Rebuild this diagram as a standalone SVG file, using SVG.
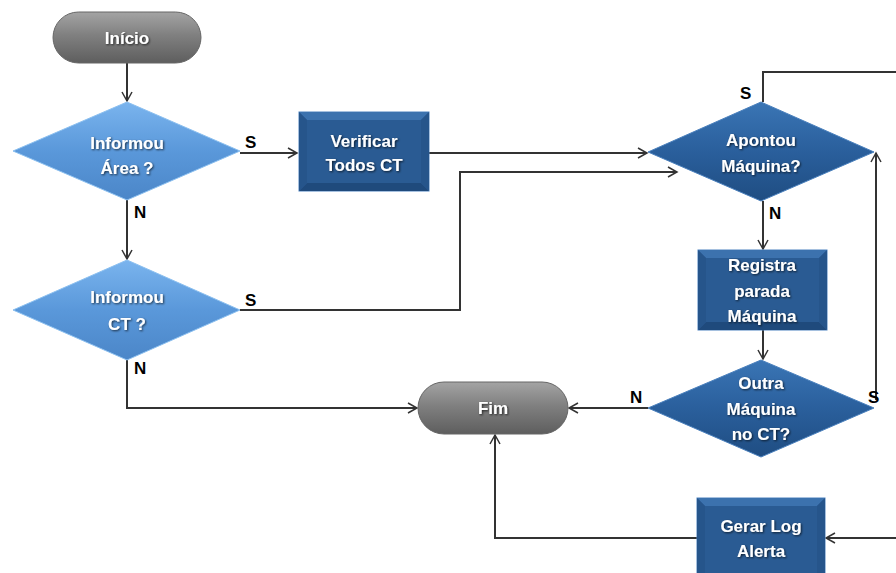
<svg xmlns="http://www.w3.org/2000/svg" width="896" height="573" viewBox="0 0 896 573">
<defs>
<linearGradient id="gPill" x1="0" y1="0" x2="0" y2="1">
<stop offset="0" stop-color="#a4a4a4"/><stop offset="0.45" stop-color="#808080"/><stop offset="1" stop-color="#5e5e5e"/>
</linearGradient>
<linearGradient id="gLight" x1="0" y1="0" x2="0" y2="1">
<stop offset="0" stop-color="#7ab4ee"/><stop offset="0.5" stop-color="#5a98da"/><stop offset="1" stop-color="#4b86c8"/>
</linearGradient>
<linearGradient id="gDark" x1="0" y1="0" x2="0" y2="1">
<stop offset="0" stop-color="#3a75b5"/><stop offset="0.5" stop-color="#2a5f9c"/><stop offset="1" stop-color="#1f4d82"/>
</linearGradient>
<filter id="ts" x="-10%" y="-20%" width="120%" height="150%">
<feDropShadow dx="1" dy="1" stdDeviation="0.8" flood-color="#000" flood-opacity="0.7"/>
</filter>
<marker id="arr" markerWidth="12" markerHeight="12" refX="10" refY="6" orient="auto" markerUnits="userSpaceOnUse">
<path d="M1,1 L10,6 L1,11" fill="none" stroke="#333" stroke-width="1.5"/>
</marker>
<style>
.t{font-family:"Liberation Sans",Arial,sans-serif;font-weight:bold;font-size:17px;fill:#fff;text-anchor:middle;filter:url(#ts)}
.lbl{font-family:"Liberation Sans",Arial,sans-serif;font-weight:bold;font-size:17px;fill:#000}
.c{fill:none;stroke:#333;stroke-width:2}
.pill{fill:url(#gPill);stroke:#666;stroke-width:1}
.dl{fill:url(#gLight);stroke:#8cc0f0;stroke-width:1}
.dd{fill:url(#gDark);stroke:#4a80bd;stroke-width:1}
.bo{fill:#2a5d97;stroke:#4d82c0;stroke-width:1}
.bt{fill:#3c72ae}
.bb{fill:#1f4a7c}
.bs{fill:#26558b}
.bi{fill:#2a5b93}
</style>
</defs>

<g id="connectors">
<path class="c" d="M127,63 V101" marker-end="url(#arr)"/>
<path class="c" d="M240,153 H297" marker-end="url(#arr)"/>
<path class="c" d="M429,153 H647" marker-end="url(#arr)"/>
<path class="c" d="M763,102 V72 H896"/>
<path class="c" d="M763,201 V249" marker-end="url(#arr)"/>
<path class="c" d="M127,200 V259" marker-end="url(#arr)"/>
<path class="c" d="M240,310 H460 V172 H677" marker-end="url(#arr)"/>
<path class="c" d="M127,360 V408 H417" marker-end="url(#arr)"/>
<path class="c" d="M763,330 V359" marker-end="url(#arr)"/>
<path class="c" d="M648,408 H569" marker-end="url(#arr)"/>
<path class="c" d="M876,400 V153" marker-end="url(#arr)"/>
<path class="c" d="M896,538 H826" marker-end="url(#arr)"/>
<path class="c" d="M697,538 H495 V435" marker-end="url(#arr)"/>
</g>

<g id="labels">
<text class="lbl" x="245" y="148">S</text>
<text class="lbl" x="134" y="218">N</text>
<text class="lbl" x="245" y="306">S</text>
<text class="lbl" x="134" y="374">N</text>
<text class="lbl" x="740" y="99">S</text>
<text class="lbl" x="769" y="219">N</text>
<text class="lbl" x="630" y="403">N</text>
<text class="lbl" x="868" y="403">S</text>
</g>

<g id="inicio">
<rect class="pill" x="53" y="12" width="148" height="51" rx="25.5"/>
<text class="t" x="127" y="44">Início</text>
</g>

<g id="informou-area">
<polygon class="dl" points="127,102 240,151 127,200 13,151"/>
<text class="t" x="127" y="149">Informou</text>
<text class="t" x="127" y="174">Área ?</text>
</g>

<g id="verificar">
<rect class="bo" x="299" y="112" width="130" height="79"/>
<polygon class="bt" points="299,112 429,112 421,120 307,120"/>
<polygon class="bb" points="299,191 429,191 421,183 307,183"/>
<polygon class="bs" points="299,112 307,120 307,183 299,191"/>
<polygon class="bs" points="429,112 421,120 421,183 429,191"/>
<rect class="bi" x="307" y="120" width="114" height="63"/>
<text class="t" x="364" y="147">Verificar</text>
<text class="t" x="364" y="171">Todos CT</text>
</g>

<g id="apontou">
<polygon class="dd" points="761,102 874,152 761,201 648,152"/>
<text class="t" x="761" y="146">Apontou</text>
<text class="t" x="761" y="172">Máquina?</text>
</g>

<g id="informou-ct">
<polygon class="dl" points="127,260 240,310 127,360 13,310"/>
<text class="t" x="127" y="303">Informou</text>
<text class="t" x="127" y="330">CT ?</text>
</g>

<g id="registra">
<rect class="bo" x="698" y="250" width="129" height="80"/>
<polygon class="bt" points="698,250 827,250 819,258 706,258"/>
<polygon class="bb" points="698,330 827,330 819,322 706,322"/>
<polygon class="bs" points="698,250 706,258 706,322 698,330"/>
<polygon class="bs" points="827,250 819,258 819,322 827,330"/>
<rect class="bi" x="706" y="258" width="113" height="64"/>
<text class="t" x="762" y="271">Registra</text>
<text class="t" x="762" y="297">parada</text>
<text class="t" x="762" y="322">Máquina</text>
</g>

<g id="outra">
<polygon class="dd" points="761,360 874,408 761,457 648,408"/>
<text class="t" x="761" y="389">Outra</text>
<text class="t" x="761" y="415">Máquina</text>
<text class="t" x="761" y="440">no CT?</text>
</g>

<g id="fim">
<rect class="pill" x="418" y="382" width="150" height="52" rx="26"/>
<text class="t" x="493" y="414">Fim</text>
</g>

<g id="gerar">
<rect class="bo" x="697" y="498" width="128" height="80"/>
<polygon class="bt" points="697,498 825,498 817,506 705,506"/>
<polygon class="bs" points="697,498 705,506 705,578 697,578"/>
<polygon class="bs" points="825,498 817,506 817,578 825,578"/>
<rect class="bi" x="705" y="506" width="112" height="72"/>
<text class="t" x="761" y="532">Gerar Log</text>
<text class="t" x="761" y="557">Alerta</text>
</g>
</svg>
